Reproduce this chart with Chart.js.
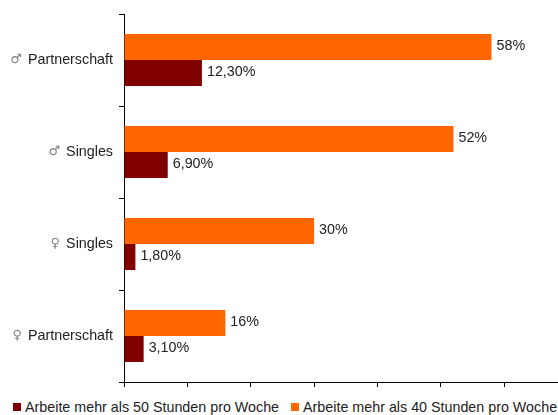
<!DOCTYPE html>
<html>
<head>
<meta charset="utf-8">
<script src="https://cdn.jsdelivr.net/npm/chart.js@4.4.0/dist/chart.umd.min.js"></script>
<style>
  html, body { margin: 0; padding: 0; background: #fff; }
  #wrap { width: 558px; height: 415px; position: relative; overflow: hidden; }
  #chartBox { position: absolute; left: 0; top: 0; width: 558px; height: 388px; }
  #legend { position: absolute; left: 13px; top: 399px; display: flex; white-space: nowrap;
            font: 14.3px "Liberation Sans", Arial, sans-serif; line-height: 16px; color: #222; }
  .item { display: flex; align-items: center; margin-right: 12px; }
  .box { width: 8px; height: 8px; margin-right: 4px; }
</style>
</head>
<body>
<div id="wrap">
  <div id="chartBox"><canvas id="chart"></canvas></div>
  <div id="legend"></div>
</div>
<script>
const symbols = ['♂', '♂', '♀', '♀'];
const categories = ['Partnerschaft', 'Singles', 'Singles', 'Partnerschaft'];
const over40 = [58, 52, 30, 16];
const over50 = [12.3, 6.9, 1.8, 3.1];
const label40 = 'Arbeite mehr als 40 Stunden pro Woche';
const label50 = 'Arbeite mehr als 50 Stunden pro Woche';

const FONT = '"Liberation Sans", Arial, sans-serif';
const FSIZE = 14.3;

// value labels right of each bar
const valueLabels = {
  id: 'valueLabels',
  afterDatasetsDraw(chart) {
    const ctx = chart.ctx;
    ctx.save();
    ctx.font = FSIZE + 'px ' + FONT;
    ctx.fillStyle = '#222';
    ctx.textBaseline = 'middle';
    ctx.textAlign = 'left';
    chart.data.datasets.forEach((ds, i) => {
      chart.getDatasetMeta(i).data.forEach((bar, j) => {
        const v = ds.data[j];
        const txt = i === 0 ? v + '%' : v.toFixed(2).replace('.', ',') + '%';
        ctx.fillText(txt, bar.x + 5, bar.y - 1);
      });
    });
    ctx.restore();
  }
};

// category labels with grey gender symbol in front
const catLabels = {
  id: 'catLabels',
  afterDraw(chart) {
    const ctx = chart.ctx;
    const y = chart.scales.y;
    const right = y.right - 11;
    ctx.save();
    ctx.textBaseline = 'middle';
    ctx.textAlign = 'right';
    categories.forEach((c, i) => {
      const py = y.getPixelForTick(i);
      ctx.font = FSIZE + 'px ' + FONT;
      ctx.fillStyle = '#222';
      ctx.fillText(c, right, py);
      const w = ctx.measureText(c).width;
      ctx.font = '13px "DejaVu Sans", sans-serif';
      ctx.fillStyle = '#808080';
      ctx.fillText(symbols[i], right - w - 6, py);
    });
    ctx.restore();
  }
};

const chart = new Chart(document.getElementById('chart'), {
  type: 'bar',
  data: {
    labels: categories,
    datasets: [
      { label: label40, data: over40, backgroundColor: '#ff6600' },
      { label: label50, data: over50, backgroundColor: '#800000' }
    ]
  },
  options: {
    indexAxis: 'y',
    responsive: true,
    maintainAspectRatio: false,
    animation: false,
    datasets: { bar: { barPercentage: 1, categoryPercentage: 0.565 } },
    layout: { padding: { top: 14, right: 0, left: 0, bottom: 0 } },
    plugins: {
      tooltip: { enabled: false },
      legend: { display: false }
    },
    scales: {
      x: {
        min: 0,
        max: 68.5,
        border: { color: '#000', width: 1 },
        grid: { drawOnChartArea: false, drawTicks: true, tickLength: 5, color: '#000' },
        ticks: { stepSize: 10, includeBounds: false, display: false },
        afterFit(scale) { scale.height = 6; }
      },
      y: {
        border: { color: '#000', width: 1 },
        grid: { drawOnChartArea: false, drawTicks: true, tickLength: 5, color: '#000' },
        ticks: { display: false },
        afterFit(scale) { scale.width = 124; }
      }
    }
  },
  plugins: [valueLabels, catLabels]
});

// legend: 50h first, then 40h
const legendEl = document.getElementById('legend');
chart.data.datasets.slice().reverse().forEach(ds => {
  const item = document.createElement('div');
  item.className = 'item';
  const box = document.createElement('span');
  box.className = 'box';
  box.style.background = ds.backgroundColor;
  const txt = document.createElement('span');
  txt.textContent = ds.label;
  item.appendChild(box);
  item.appendChild(txt);
  legendEl.appendChild(item);
});
</script>
</body>
</html>
